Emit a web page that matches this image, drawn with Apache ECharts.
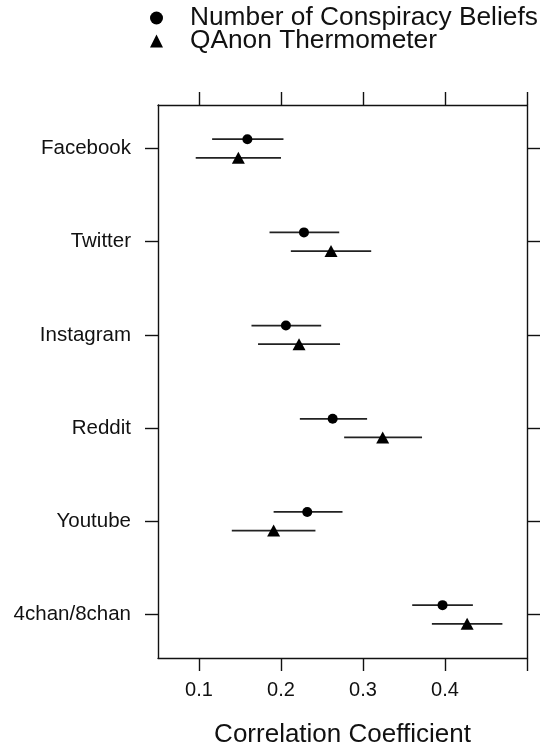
<!DOCTYPE html>
<html>
<head>
<meta charset="utf-8">
<script src="https://cdn.jsdelivr.net/npm/echarts@6/dist/echarts.min.js"></script>
<style>
  html, body { margin: 0; padding: 0; background: #fff; }
  #chart { width: 545px; height: 748px; }
</style>
</head>
<body>
<div id="chart"></div>
<script>
// Platforms, top to bottom
const platforms = ['Facebook', 'Twitter', 'Instagram', 'Reddit', 'Youtube', '4chan/8chan'];

// Number of Conspiracy Beliefs: estimate and 95% interval
const beliefsEst = [0.159, 0.228, 0.206, 0.263, 0.232, 0.397];
const beliefsLow = [0.116, 0.186, 0.164, 0.223, 0.191, 0.360];
const beliefsHigh = [0.203, 0.271, 0.249, 0.305, 0.275, 0.434];

// QAnon Thermometer: estimate and 95% interval
const qanonEst = [0.148, 0.261, 0.222, 0.324, 0.191, 0.427];
const qanonLow = [0.096, 0.212, 0.172, 0.277, 0.140, 0.384];
const qanonHigh = [0.200, 0.310, 0.272, 0.372, 0.242, 0.470];

// Axis ticks
const xTicks = [0.1, 0.2, 0.3, 0.4, 0.5];
const xLabels = [0.1, 0.2, 0.3, 0.4];

const seriesNames = ['Number of Conspiracy Beliefs', 'QAnon Thermometer'];
const rowOffset = 0.1;
const font = 'Liberation Sans, Arial, Helvetica, sans-serif';
const ink = '#111';

const yPos = platforms.map((_, i) => i + 1);

function pointData(est, off) {
  return est.map((v, i) => [v, i + 1 + off]);
}
function barData(lo, hi, off) {
  return lo.map((v, i) => [v, hi[i], i + 1 + off]);
}

function renderBar(params, api) {
  const a = api.coord([api.value(0), api.value(2)]);
  const b = api.coord([api.value(1), api.value(2)]);
  return {
    type: 'line',
    shape: { x1: a[0], y1: a[1], x2: b[0], y2: b[1] },
    style: { stroke: '#222', lineWidth: 1.8 }
  };
}

const tickStyle = { show: true, inside: false, length: 13, lineStyle: { color: ink, width: 1.4 } };
const lineStyle = { show: true, lineStyle: { color: ink, width: 1.4 } };

const chart = echarts.init(document.getElementById('chart'), null, { renderer: 'canvas' });
chart.setOption({
  animation: false,
  backgroundColor: '#fff',
  grid: { left: 158, right: 18, top: 105, bottom: 90, outerBoundsMode: 'none', containLabel: false },
  legend: {
    orient: 'vertical',
    left: 145,
    top: 0,
    itemWidth: 13,
    itemHeight: 13,
    itemGap: -3,
    data: [
      { name: seriesNames[0], icon: 'circle', itemStyle: { color: '#000' } },
      { name: seriesNames[1], icon: 'triangle', itemStyle: { color: '#000' } }
    ],
    textStyle: { fontFamily: font, fontSize: 26.3, color: ink, padding: [0, 0, 0, 22] }
  },
  xAxis: [
    {
      type: 'value', position: 'bottom', min: 0.05, max: 0.5,
      axisLine: lineStyle,
      axisTick: Object.assign({ customValues: xTicks }, tickStyle),
      splitLine: { show: false },
      axisLabel: {
        customValues: xLabels, margin: 22, fontFamily: font, fontSize: 20, color: ink,
        formatter: v => v.toFixed(1)
      },
      name: 'Correlation Coefficient', nameLocation: 'middle', nameGap: 64,
      nameTextStyle: { fontFamily: font, fontSize: 26, color: ink }
    },
    {
      type: 'value', position: 'top', min: 0.05, max: 0.5,
      axisLine: lineStyle,
      axisTick: Object.assign({ customValues: xTicks }, tickStyle),
      splitLine: { show: false },
      axisLabel: { show: false }
    }
  ],
  yAxis: [
    {
      type: 'value', position: 'left', inverse: true, min: 0.533, max: 6.467,
      axisLine: lineStyle,
      axisTick: Object.assign({ customValues: yPos }, tickStyle),
      splitLine: { show: false },
      axisLabel: {
        customValues: yPos, margin: 27, fontFamily: font, fontSize: 20.5, color: ink,
        formatter: v => platforms[Math.round(v) - 1]
      }
    },
    {
      type: 'value', position: 'right', inverse: true, min: 0.533, max: 6.467,
      axisLine: lineStyle,
      axisTick: Object.assign({ customValues: yPos }, tickStyle),
      splitLine: { show: false },
      axisLabel: { show: false }
    }
  ],
  series: [
    {
      type: 'custom', name: seriesNames[0] + ' interval', renderItem: renderBar,
      data: barData(beliefsLow, beliefsHigh, -rowOffset), encode: { x: [0, 1], y: 2 }, silent: true
    },
    {
      type: 'custom', name: seriesNames[1] + ' interval', renderItem: renderBar,
      data: barData(qanonLow, qanonHigh, rowOffset), encode: { x: [0, 1], y: 2 }, silent: true
    },
    {
      type: 'scatter', name: seriesNames[0], symbol: 'circle', symbolSize: 10,
      itemStyle: { color: '#000', opacity: 1 }, data: pointData(beliefsEst, -rowOffset), z: 5
    },
    {
      type: 'scatter', name: seriesNames[1], symbol: 'triangle', symbolSize: [13, 12],
      itemStyle: { color: '#000', opacity: 1 }, data: pointData(qanonEst, rowOffset), z: 5
    }
  ]
});
</script>
</body>
</html>
